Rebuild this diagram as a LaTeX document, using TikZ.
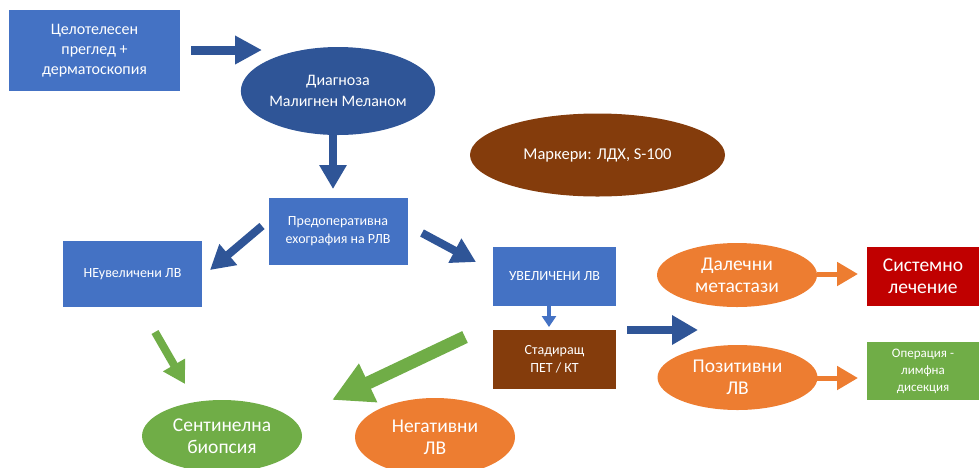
\documentclass[tikz,border=0pt]{standalone}
\usepackage{fontspec}
\setmainfont{Carlito}
\usetikzlibrary{shapes.geometric,arrows.meta}
\definecolor{cblue}{HTML}{4472C4}
\definecolor{cdblue}{HTML}{2F5597}
\definecolor{cbrown}{HTML}{843C0C}
\definecolor{corange}{HTML}{ED7D31}
\definecolor{cred}{HTML}{C00000}
\definecolor{cgreen}{HTML}{70AD47}
\tikzset{
  boxn/.style={rectangle, fill=#1, text=white, inner sep=0pt, align=center},
  ell/.style={ellipse, fill=#1, text=white, inner sep=0pt, align=center},
  fat/.style={draw=#1, line width=8pt},
}
\begin{document}
\begin{tikzpicture}[x=1pt,y=-1pt]
\useasboundingbox (0,0) rectangle (979,467);
% nodes
\node[boxn=cblue, minimum width=171pt, minimum height=81pt, font=\fontsize{16}{20}\selectfont] (exam) at (94.5,50.5) {Целотелесен\\преглед +\\дерматоскопия};
\node[ell=cdblue, minimum width=190pt, minimum height=88pt, font=\fontsize{16}{21}\selectfont] (diag) at (338,91) {Диагноза\\Малигнен Меланом};
\node[ell=cbrown, minimum width=255pt, minimum height=83pt, font=\fontsize{16.5}{20}\selectfont] (mark) at (597.5,155) {Маркери: ЛДХ, S-100};
\node[boxn=cblue, minimum width=139pt, minimum height=67pt, font=\fontsize{14}{18}\selectfont] (echo) at (338,231.5) {Предоперативна\\ехография на РЛВ};
\node[boxn=cblue, minimum width=139pt, minimum height=66pt, font=\fontsize{14}{18}\selectfont] (neuv) at (132.5,274) {НЕувеличени ЛВ};
\node[boxn=cblue, minimum width=123pt, minimum height=59pt, font=\fontsize{14}{18}\selectfont] (uv) at (554.5,276.5) {УВЕЛИЧЕНИ ЛВ};
\node[boxn=cbrown, minimum width=123pt, minimum height=59pt, font=\fontsize{14}{18}\selectfont] (stage) at (554.5,359.5) {Стадиращ\\ПЕТ / КТ};
\node[ell=corange, minimum width=160pt, minimum height=64pt, font=\fontsize{19.5}{22}\selectfont] (dist) at (737,275) {Далечни\\метастази};
\node[ell=corange, minimum width=160pt, minimum height=65pt, font=\fontsize{19.5}{22}\selectfont] (pos) at (737.5,377.5) {Позитивни\\ЛВ};
\node[boxn=cred, minimum width=112pt, minimum height=59pt, font=\fontsize{19.5}{22}\selectfont] (sys) at (923,276.5) {Системно\\лечение};
\node[boxn=cgreen, minimum width=112pt, minimum height=58pt, font=\fontsize{13}{17}\selectfont] (oper) at (923,371) {Операция -\\лимфна\\дисекция};
\node[ell=cgreen, minimum width=160pt, minimum height=72pt, font=\fontsize{19.5}{22}\selectfont] (sent) at (222,436) {Сентинелна\\биопсия};
\node[ell=corange, minimum width=160pt, minimum height=78pt, font=\fontsize{19.5}{22}\selectfont] (neg) at (435,437) {Негативни\\ЛВ};
% connector end points
\coordinate (a1s) at (191,50); \coordinate (a1e) at (262,50);
\coordinate (a2s) at (333,132); \coordinate (a2e) at (333,189);
\coordinate (a3s) at (262,226); \coordinate (a3e) at (210,270);
\coordinate (a4s) at (422,233); \coordinate (a4e) at (476,262);
\coordinate (a5s) at (549,306); \coordinate (a5e) at (549,327);
\coordinate (a6s) at (627,330); \coordinate (a6e) at (698,330);
\coordinate (a7s) at (817,274); \coordinate (a7e) at (858,274);
\coordinate (a8s) at (817,378); \coordinate (a8e) at (858,378);
\coordinate (a9s) at (155,332); \coordinate (a9e) at (185,384);
\coordinate (a10s) at (465,337); \coordinate (a10e) at (332,400);
% connectors
\draw[fat=cdblue, line width=9pt, -{Triangle[length=27pt,width=27pt]}] (a1s) -- (a1e);
\draw[fat=cdblue, line width=8pt, -{Triangle[length=24pt,width=26pt]}] (a2s) -- (a2e);
\draw[fat=cdblue, line width=8pt, -{Triangle[length=24pt,width=26pt]}] (a3s) -- (a3e);
\draw[fat=cdblue, line width=8pt, -{Triangle[length=24pt,width=26pt]}] (a4s) -- (a4e);
\draw[fat=cblue, line width=4pt, -{Triangle[length=11pt,width=14pt]}] (a5s) -- (a5e);
\draw[fat=cdblue, line width=8pt, -{Triangle[length=26pt,width=28pt]}] (a6s) -- (a6e);
\draw[fat=corange, line width=5pt, -{Triangle[length=21pt,width=23pt]}] (a7s) -- (a7e);
\draw[fat=corange, line width=5pt, -{Triangle[length=21pt,width=23pt]}] (a8s) -- (a8e);
\draw[fat=cgreen, line width=8pt, -{Triangle[length=22pt,width=24pt]}] (a9s) -- (a9e);
\draw[fat=cgreen, line width=13pt, -{Triangle[length=40pt,width=40pt]}] (a10s) -- (a10e);
\end{tikzpicture}
\end{document}
